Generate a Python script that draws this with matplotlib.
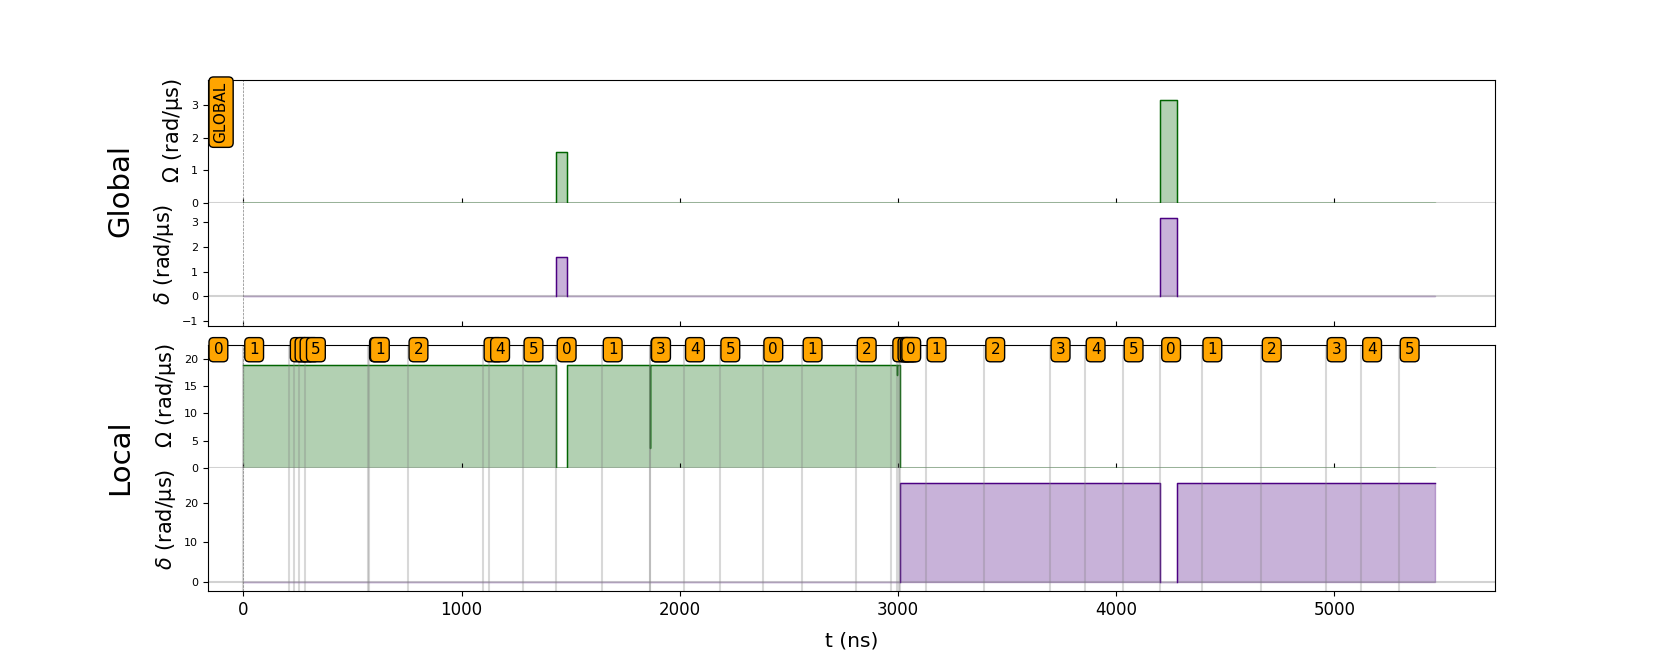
import matplotlib.pyplot as plt
import numpy as np

# pulse sequence, step breakpoints in ns (value holds until next time)
glob_t = [0, 1432, 1484, 4202, 4277, 5462]
glob_amp = [0, 1.571, 0, 3.142, 0, 0]
glob_det = [0, 1.571, 0, 3.142, 0, 0]

loc_t = [0, 1432, 1484, 1862, 1864, 2994, 2996, 3011, 4202, 4277, 5462]
loc_amp = [18.85, 0, 18.85, 3.6, 18.85, 17.1, 18.85, 0, 0, 0, 0]
loc_det = [0, 0, 0, 0, 0, 0, 0, 25.13, 0, 25.13, 25.13]

# target changes on the local channel
init_tgt = "0"
tgt_times = [0, 209, 231, 254, 283,
             572, 576, 753, 1097, 1127, 1280,
             1432, 1643, 1862, 1864, 2020, 2182,
             2379, 2559, 2807, 2970, 2994, 3004,
             3011, 3127, 3396, 3695, 3856, 4030,
             4202, 4391, 4663, 4960, 5123, 5295]
tgt_ids = ["1", "2", "3", "4", "5"] + ["0", "1", "2", "3", "4", "5"] * 5

final_t = 5462
channels = ["Global", "Local"]
ylims = {"Global": [(0, 3.77), (-1.19, 3.76)], "Local": [(0, 22.62), (-2.28, 28.9)]}
yticks = {"Global": [[0, 1, 2, 3], [-1, 0, 1, 2, 3]], "Local": [[0, 5, 10, 15, 20], [0, 10, 20]]}
data = {"Global": (glob_t, glob_amp, glob_det), "Local": (loc_t, loc_amp, loc_det)}


def draw_blocks(ax, t, v, color):
    # outline only the non-zero parts of a step signal
    k = 0
    n = len(v)
    while k < n - 1:
        if v[k] == 0:
            k += 1
            continue
        xs = [t[k]]
        ys = [0]
        while k < n - 1 and v[k] != 0:
            xs += [t[k], t[k + 1]]
            ys += [v[k], v[k]]
            k += 1
        if k < n - 1:
            xs.append(t[k])
            ys.append(0)
        ax.plot(xs, ys, color=color, linewidth=1)


fig = plt.figure(figsize=(16.61, 6.64), dpi=100)
gs = fig.add_gridspec(2, 1, hspace=0.075)
tgt_box = dict(boxstyle="round", facecolor="orange")

for i, ch in enumerate(channels):
    sub = gs[i].subgridspec(2, 1, hspace=0.0)
    ax1 = fig.add_subplot(sub[0])
    ax2 = fig.add_subplot(sub[1])
    t, amp, det = data[ch]

    for j, ax in enumerate([ax1, ax2]):
        ax.set_xlim(-0.03 * final_t, 1.05 * final_t)
        ax.set_ylim(*ylims[ch][j])
        ax.set_yticks(yticks[ch][j])
        ax.tick_params(axis="y", labelsize=8)
        ax.axvline(0, linestyle="--", linewidth=0.5, color="grey")
        ax.axhline(0, color="grey", alpha=0.35, linewidth=1.5)
        if j == 0:
            ax.spines["bottom"].set_visible(False)
        else:
            ax.spines["top"].set_visible(False)
        if i == 0 or j == 0:
            ax.tick_params(axis="x", direction="in", labelbottom=False)
        else:
            ax.tick_params(axis="x", labelsize=12)
            ax.set_xlabel("t (ns)", fontsize=14.5, labelpad=9)

    ax1.plot(t, amp, drawstyle="steps-post", color="darkgreen", linewidth=1, clip_on=False)
    ax1.fill_between(t, 0, amp, step="post", color="darkgreen", alpha=0.3)
    ax2.fill_between(t, 0, det, step="post", color="indigo", alpha=0.3)
    draw_blocks(ax2, t, det, "indigo")

    ax1.set_ylabel(r"$\Omega$ (rad/µs)", fontsize=15)
    ax2.set_ylabel(r"$\delta$ (rad/µs)", fontsize=15)
    ax1.yaxis.label.set_y(0.585)
    ax2.yaxis.label.set_y(0.585)

    top = ylims[ch][0][1]
    if ch == "Global":
        ax1.text(-0.025 * final_t, 0.985 * top, "GLOBAL", fontsize=11, rotation=90,
                 ha="left", va="top", bbox=tgt_box)
    else:
        y_txt = max(amp) * 1.15
        ax1.text(-0.025 * final_t, y_txt, init_tgt, fontsize=11, ha="left", va="center", bbox=tgt_box)
        for tt, lab in zip(tgt_times, tgt_ids):
            ax1.axvline(tt, color="grey", alpha=0.3, linewidth=1.5)
            ax2.axvline(tt, color="grey", alpha=0.3, linewidth=1.5)
            ax1.text(tt + 0.005 * final_t, y_txt, lab, fontsize=11, ha="left", va="center",
                     bbox=tgt_box, zorder=5)

fig.text(0.0722, 0.713, "Global", fontsize=21, rotation=90, ha="center", va="center")
fig.text(0.0722, 0.311, "Local", fontsize=21, rotation=90, ha="center", va="center")

plt.savefig("out.png")
